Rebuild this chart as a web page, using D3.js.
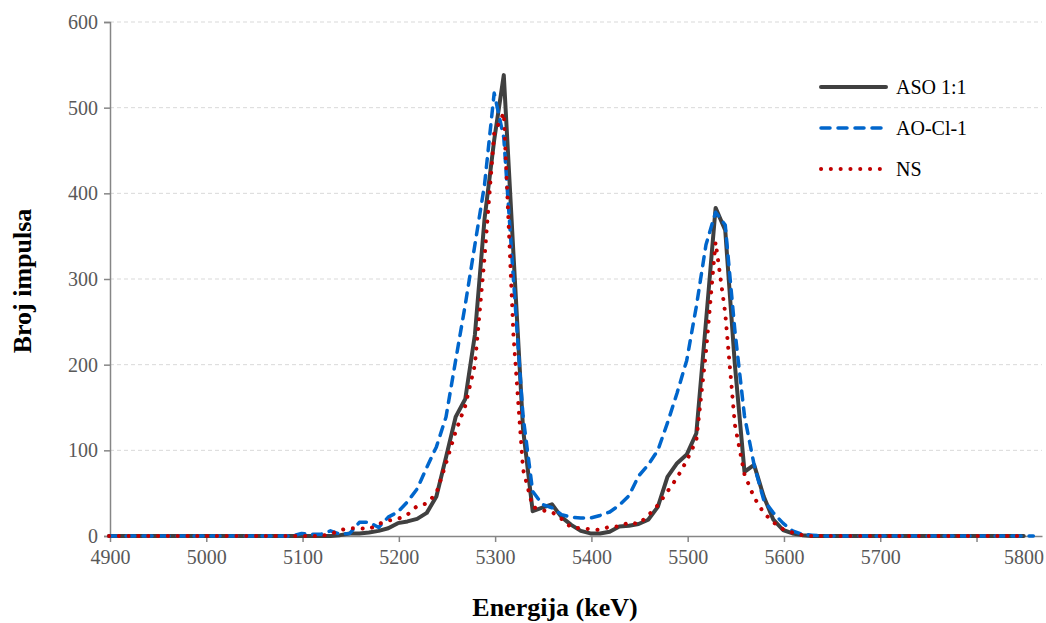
<!DOCTYPE html>
<html>
<head>
<meta charset="utf-8">
<script src="https://cdn.jsdelivr.net/npm/d3@7"></script>
<style>
  html, body { margin: 0; padding: 0; background: #ffffff; }
  svg { display: block; }
</style>
</head>
<body>
<svg id="chart" width="1046" height="623"></svg>
<script>
// ---- data ----
const energies = [4899,4909,4919,4929,4939,4949,4959,4969,4979,4989,
  4999,5009,5019,5029,5039,5049,5059,5069,5079,5089,
  5099,5109,5119,5129,5139,5149,5159,5169,5179,5189,
  5199,5209,5219,5229,5239,5249,5259,5269,5279,5289,
  5299,5309,5319,5329,5339,5349,5359,5369,5379,5389,
  5399,5409,5419,5429,5439,5449,5459,5469,5479,5489,
  5499,5509,5519,5529,5539,5549,5559,5569,5579,5589,
  5599,5609,5619,5629,5639,5649,5659,5669,5679,5689,
  5699,5709,5719,5729,5739,5749,5759,5769,5779,5789,
  5799,5809,5819,5829,5839,5849,5859];

const asoValues = [0,0,0,0,0,0,0,0,0,0,
  0,0,0,0,0,0,0,0,0,0,
  0,0,0,0,1,3,3,4,6,9,
  15,17,20,27,46,92,139,160,235,370,
  462,538,330,125,29,33,37,22,13,6,
  3,3,5,11,12,14,19,34,69,85,
  95,120,250,383,357,200,75,83,46,19,
  7,3,1,0,0,0,0,0,0,0,
  0,0,0,0,0,0,0,0,0,0,
  0,0,0,0,0,0];

const aoclValues = [0,0,0,0,0,0,0,0,0,0,
  0,0,0,0,0,0,0,0,0,0,
  3,2,2,6,2,3,16,16,10,22,
  28,40,55,80,104,139,205,270,340,410,
  517,465,300,140,52,37,33,25,22,21,
  21,24,28,36,47,70,83,100,132,167,
  205,268,340,378,363,240,140,83,42,27,
  15,6,2,1,0,0,0,0,0,0,
  0,0,0,0,0,0,0,0,0,0,
  0,0,0,0,0,0,0];

const nsValues = [0,0,0,0,0,0,0,0,0,0,
  0,0,0,0,0,0,0,0,0,0,
  0,0,0,2,7,9,9,8,14,18,
  20,25,35,38,50,85,122,152,200,325,
  470,494,235,78,34,30,28,20,10,9,
  8,7,11,11,16,14,24,36,52,68,
  88,112,215,343,260,130,72,45,27,16,
  8,4,1,0,0,0,0,0,0,0,
  0,0,0,0,0,0,0,0,0,0,
  0,0,0,0,0,0];

const seriesNames = ["ASO 1:1", "AO-Cl-1", "NS"];
const xTickValues = [4900,5000,5100,5200,5300,5400,5500,5600,5700,5800];
const yTickValues = [0,100,200,300,400,500,600];
const xTitle = "Energija (keV)";
const yTitle = "Broj impulsa";

// ---- styles ----
const styles = [
  { color: "#404040", width: 4,   dash: null,     cap: "round" },
  { color: "#0066cc", width: 3.5, dash: "9,8",    cap: "round" },
  { color: "#c00000", width: 4,   dash: "0.1,9.7",cap: "round" }
];

const svg = d3.select("#chart");
const plotLeft = 110, plotRight = 1042, plotTop = 22, plotBottom = 536;

const x = d3.scaleLinear().domain([4900, 5868]).range([plotLeft, plotRight]);
const y = d3.scaleLinear().domain([0, 600]).range([plotBottom, plotTop]);

const serif = "'Liberation Serif', 'Times New Roman', serif";

// gridlines
svg.append("g").selectAll("line")
  .data(yTickValues.filter(d => d > 0))
  .join("line")
  .attr("x1", plotLeft).attr("x2", plotRight)
  .attr("y1", d => y(d)).attr("y2", d => y(d))
  .attr("stroke", "#d9d9d9").attr("stroke-width", 1)
  .attr("stroke-dasharray", "4,3");

// y axis
const yAxis = d3.axisLeft(y).tickValues(yTickValues).tickSize(6).tickPadding(6)
  .tickFormat(d3.format("d"));
const gy = svg.append("g").attr("transform", `translate(${plotLeft},0)`).call(yAxis);
gy.select(".domain").attr("stroke", "#868686").attr("stroke-width", 1.5);
gy.selectAll(".tick line").attr("stroke", "#868686").attr("stroke-width", 1.5);
gy.selectAll(".tick text").attr("fill", "#595959")
  .style("font-family", serif).style("font-size", "20px");

// x axis
const xAxis = d3.axisBottom(x).tickValues(xTickValues).tickSize(6).tickPadding(8)
  .tickFormat(d3.format("d")).tickSizeOuter(0);
const gx = svg.append("g").attr("transform", `translate(0,${plotBottom})`).call(xAxis);
gx.select(".domain").attr("stroke", "#868686").attr("stroke-width", 1.5);
gx.selectAll(".tick line").attr("stroke", "#868686").attr("stroke-width", 1.5);
gx.selectAll(".tick text").attr("fill", "#595959")
  .style("font-family", serif).style("font-size", "20px");
// the last label sits to the right of its tick in the reference
gx.selectAll(".tick").filter(d => d === 5800).select("text").attr("x", 47);

// series
const allValues = [asoValues, aoclValues, nsValues];
const line = d3.line()
  .x(d => x(d.e)).y(d => y(d.v));

allValues.forEach((vals, i) => {
  const pts = energies.map((e, j) => ({ e: e, v: vals[j] })).filter(d => d.v !== undefined);
  const p = svg.append("path")
    .datum(pts)
    .attr("d", line)
    .attr("fill", "none")
    .attr("stroke", styles[i].color)
    .attr("stroke-width", styles[i].width)
    .attr("stroke-linejoin", "round")
    .attr("stroke-linecap", styles[i].cap);
  if (styles[i].dash) p.attr("stroke-dasharray", styles[i].dash);
});

// legend
const legendY = [87, 128, 169];
const leg = svg.append("g");
seriesNames.forEach((name, i) => {
  const l = leg.append("line")
    .attr("x1", 821).attr("x2", 886)
    .attr("y1", legendY[i]).attr("y2", legendY[i])
    .attr("stroke", styles[i].color)
    .attr("stroke-width", styles[i].width)
    .attr("stroke-linecap", styles[i].cap);
  if (styles[i].dash) l.attr("stroke-dasharray", styles[i].dash);
  leg.append("text")
    .attr("x", 896).attr("y", legendY[i] + 7)
    .attr("fill", "#000")
    .style("font-family", serif).style("font-size", "20px")
    .text(name);
});

// axis titles
svg.append("text")
  .attr("x", 555).attr("y", 616)
  .attr("text-anchor", "middle")
  .style("font-family", serif).style("font-size", "26px").style("font-weight", "bold")
  .text(xTitle);

svg.append("text")
  .attr("transform", "translate(31,281) rotate(-90)")
  .attr("text-anchor", "middle")
  .style("font-family", serif).style("font-size", "26px").style("font-weight", "bold")
  .text(yTitle);
</script>
</body>
</html>
